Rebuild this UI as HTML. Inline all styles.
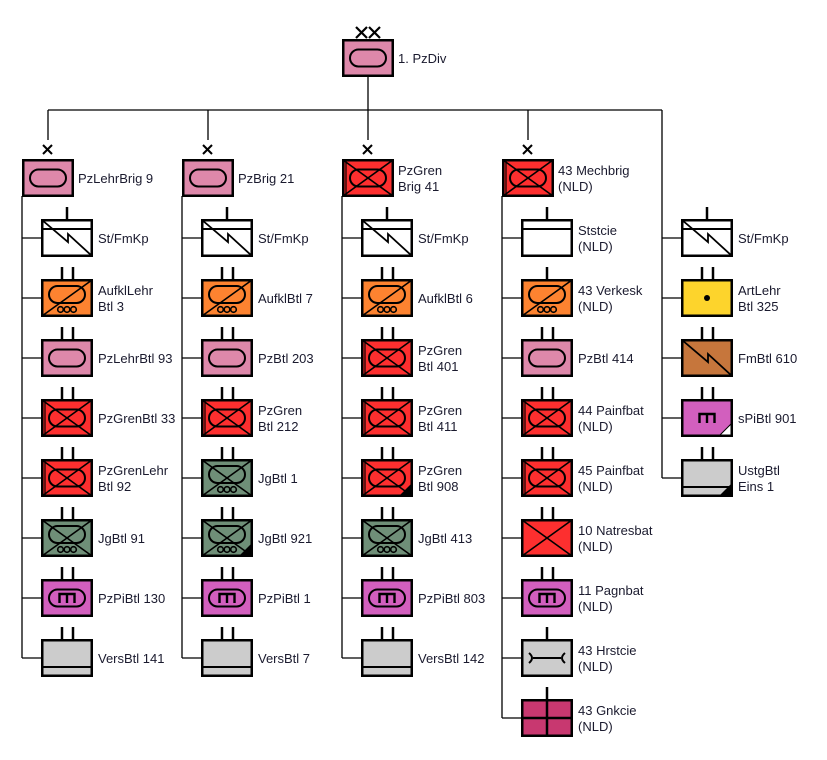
<!DOCTYPE html>
<html><head><meta charset="utf-8"><style>
html,body{margin:0;padding:0;background:#fff;}
svg{display:block;}
text{font-family:"Liberation Sans",Arial,sans-serif;font-size:13px;fill:#1a1a2e;}
</style></head><body>
<svg width="827" height="760" viewBox="0 0 827 760" xmlns="http://www.w3.org/2000/svg">
<defs>
<g id="box" fill="none" stroke="#000" stroke-width="2.5"><rect x="1.25" y="1.25" width="49.5" height="35.5"/></g>
<g id="stad" fill="none" stroke="#000" stroke-width="2"><rect x="8" y="10.5" width="36" height="17" rx="8.5"/></g>
<g id="stadH" fill="none" stroke="#000" stroke-width="2"><rect x="8" y="7" width="36" height="17" rx="8.5"/></g>
<g id="wheels" fill="none" stroke="#000" stroke-width="1.6"><circle cx="19.5" cy="30.5" r="2.8"/><circle cx="26" cy="30.5" r="2.8"/><circle cx="32.5" cy="30.5" r="2.8"/></g>
<g id="xx" stroke="#000" stroke-width="1.6"><line x1="1" y1="1" x2="51" y2="37"/><line x1="51" y1="1" x2="1" y2="37"/></g>
<g id="armor"><rect x="0" y="0" width="52" height="38" fill="#de88aa"/><use href="#stad"/><use href="#box"/></g>
<g id="mech"><rect x="0" y="0" width="52" height="38" fill="#fd2f2f"/><use href="#stad"/><use href="#xx"/><line x1="4" y1="2" x2="4" y2="36" stroke="#000" stroke-width="1.2"/><use href="#box"/></g>
<g id="jg"><rect x="0" y="0" width="52" height="38" fill="#6f8f78"/><use href="#stadH"/><use href="#wheels"/><use href="#xx"/><use href="#box"/></g>
<g id="recon"><rect x="0" y="0" width="52" height="38" fill="#fd8330"/><use href="#stadH"/><use href="#wheels"/><line x1="1" y1="37" x2="51" y2="1" stroke="#000" stroke-width="1.6"/><use href="#box"/></g>
<g id="eng"><rect x="0" y="0" width="52" height="38" fill="#d25fbe"/><use href="#stad"/><path d="M18.5,24 V15 H33.5 V24 M26,15 V24" fill="none" stroke="#000" stroke-width="2.4"/><use href="#box"/></g>
<g id="engP"><rect x="0" y="0" width="52" height="38" fill="#d25fbe"/><path d="M18.5,24 V15 H33.5 V24 M26,15 V24" fill="none" stroke="#000" stroke-width="2.4"/><path d="M38,37 L51,24 L51,37 Z" fill="#fff" stroke="#000" stroke-width="1"/><use href="#box"/></g>
<g id="sup"><rect x="0" y="0" width="52" height="38" fill="#cccccc"/><line x1="1" y1="28" x2="51" y2="28" stroke="#000" stroke-width="2"/><use href="#box"/></g>
<g id="sig"><rect x="0" y="0" width="52" height="38" fill="#fff"/><line x1="1" y1="10" x2="51" y2="10" stroke="#000" stroke-width="2"/><path d="M1,1 L27,23 L27,15 L51,37" fill="none" stroke="#000" stroke-width="1.8"/><use href="#box"/></g>
<g id="sigB"><rect x="0" y="0" width="52" height="38" fill="#c6763c"/><path d="M1,1 L27,23 L27,15 L51,37" fill="none" stroke="#000" stroke-width="1.8"/><use href="#box"/></g>
<g id="hq"><rect x="0" y="0" width="52" height="38" fill="#fff"/><line x1="1" y1="10" x2="51" y2="10" stroke="#000" stroke-width="2"/><use href="#box"/></g>
<g id="art"><rect x="0" y="0" width="52" height="38" fill="#fdd42c"/><circle cx="26" cy="19" r="3" fill="#000"/><use href="#box"/></g>
<g id="inf"><rect x="0" y="0" width="52" height="38" fill="#fd2f2f"/><use href="#xx"/><use href="#box"/></g>
<g id="maint"><rect x="0" y="0" width="52" height="38" fill="#cccccc"/><path d="M8,14 Q14,19 8,24 M12,19 H40 M44,14 Q38,19 44,24" fill="none" stroke="#000" stroke-width="2"/><use href="#box"/></g>
<g id="med"><rect x="0" y="0" width="52" height="38" fill="#c83870"/><line x1="26" y1="0" x2="26" y2="38" stroke="#000" stroke-width="2.5"/><line x1="0" y1="19" x2="52" y2="19" stroke="#000" stroke-width="2.5"/><use href="#box"/></g>
<g id="tri"><path d="M38,37 L51,24 L51,37 Z" fill="#000"/></g>
<g id="bn" stroke="#000" stroke-width="2.5"><line x1="21" y1="-12" x2="21" y2="0"/><line x1="32" y1="-12" x2="32" y2="0"/></g>
<g id="co" stroke="#000" stroke-width="2.5"><line x1="26" y1="-12" x2="26" y2="0"/></g>
<g id="brx" stroke="#000" stroke-width="2"><line x1="21" y1="-14" x2="30" y2="-5"/><line x1="30" y1="-14" x2="21" y2="-5"/></g>
</defs>

<g stroke="#000" stroke-width="1.3" fill="none">
<line x1="368" y1="77" x2="368" y2="110"/>
<line x1="48" y1="110" x2="662" y2="110"/>
<line x1="48" y1="110" x2="48" y2="140"/>
<line x1="208" y1="110" x2="208" y2="140"/>
<line x1="368" y1="110" x2="368" y2="140"/>
<line x1="528" y1="110" x2="528" y2="140"/>
<line x1="662" y1="110" x2="662" y2="478"/>
<line x1="22" y1="196" x2="22" y2="658"/>
<line x1="182" y1="196" x2="182" y2="658"/>
<line x1="342" y1="196" x2="342" y2="658"/>
<line x1="502" y1="196" x2="502" y2="718"/>
</g>
<g stroke="#000" stroke-width="1.3">
<line x1="22" y1="238" x2="41" y2="238"/><line x1="22" y1="298" x2="41" y2="298"/><line x1="22" y1="358" x2="41" y2="358"/><line x1="22" y1="418" x2="41" y2="418"/><line x1="22" y1="478" x2="41" y2="478"/><line x1="22" y1="538" x2="41" y2="538"/><line x1="22" y1="598" x2="41" y2="598"/><line x1="22" y1="658" x2="41" y2="658"/>
<line x1="182" y1="238" x2="201" y2="238"/><line x1="182" y1="298" x2="201" y2="298"/><line x1="182" y1="358" x2="201" y2="358"/><line x1="182" y1="418" x2="201" y2="418"/><line x1="182" y1="478" x2="201" y2="478"/><line x1="182" y1="538" x2="201" y2="538"/><line x1="182" y1="598" x2="201" y2="598"/><line x1="182" y1="658" x2="201" y2="658"/>
<line x1="342" y1="238" x2="361" y2="238"/><line x1="342" y1="298" x2="361" y2="298"/><line x1="342" y1="358" x2="361" y2="358"/><line x1="342" y1="418" x2="361" y2="418"/><line x1="342" y1="478" x2="361" y2="478"/><line x1="342" y1="538" x2="361" y2="538"/><line x1="342" y1="598" x2="361" y2="598"/><line x1="342" y1="658" x2="361" y2="658"/>
<line x1="502" y1="238" x2="521" y2="238"/><line x1="502" y1="298" x2="521" y2="298"/><line x1="502" y1="358" x2="521" y2="358"/><line x1="502" y1="418" x2="521" y2="418"/><line x1="502" y1="478" x2="521" y2="478"/><line x1="502" y1="538" x2="521" y2="538"/><line x1="502" y1="598" x2="521" y2="598"/><line x1="502" y1="658" x2="521" y2="658"/><line x1="502" y1="718" x2="521" y2="718"/>
<line x1="662" y1="238" x2="681" y2="238"/><line x1="662" y1="298" x2="681" y2="298"/><line x1="662" y1="358" x2="681" y2="358"/><line x1="662" y1="418" x2="681" y2="418"/><line x1="662" y1="478" x2="681" y2="478"/>
</g>

<use href="#armor" x="342" y="39"/>
<g stroke="#000" stroke-width="2.2"><line x1="356" y1="27" x2="367" y2="38"/><line x1="367" y1="27" x2="356" y2="38"/><line x1="369" y1="27" x2="380" y2="38"/><line x1="380" y1="27" x2="369" y2="38"/></g>
<text x="398" y="63">1. PzDiv</text>

<use href="#armor" x="22" y="159"/><use href="#brx" x="22" y="159"/><text x="78" y="183">PzLehrBrig 9</text>
<use href="#armor" x="182" y="159"/><use href="#brx" x="182" y="159"/><text x="238" y="183">PzBrig 21</text>
<use href="#mech" x="342" y="159"/><use href="#brx" x="342" y="159"/><text x="398" y="175">PzGren</text><text x="398" y="191">Brig 41</text>
<use href="#mech" x="502" y="159"/><use href="#brx" x="502" y="159"/><text x="558" y="175">43 Mechbrig</text><text x="558" y="191">(NLD)</text>

<use href="#sig" x="41" y="219"/><use href="#co" x="41" y="219"/><text x="98" y="243">St/FmKp</text>
<use href="#recon" x="41" y="279"/><use href="#bn" x="41" y="279"/><text x="98" y="295">AufklLehr</text><text x="98" y="311">Btl 3</text>
<use href="#armor" x="41" y="339"/><use href="#bn" x="41" y="339"/><text x="98" y="363">PzLehrBtl 93</text>
<use href="#mech" x="41" y="399"/><use href="#bn" x="41" y="399"/><text x="98" y="423">PzGrenBtl 33</text>
<use href="#mech" x="41" y="459"/><use href="#bn" x="41" y="459"/><text x="98" y="475">PzGrenLehr</text><text x="98" y="491">Btl 92</text>
<use href="#jg" x="41" y="519"/><use href="#bn" x="41" y="519"/><text x="98" y="543">JgBtl 91</text>
<use href="#eng" x="41" y="579"/><use href="#bn" x="41" y="579"/><text x="98" y="603">PzPiBtl 130</text>
<use href="#sup" x="41" y="639"/><use href="#bn" x="41" y="639"/><text x="98" y="663">VersBtl 141</text>

<use href="#sig" x="201" y="219"/><use href="#co" x="201" y="219"/><text x="258" y="243">St/FmKp</text>
<use href="#recon" x="201" y="279"/><use href="#bn" x="201" y="279"/><text x="258" y="303">AufklBtl 7</text>
<use href="#armor" x="201" y="339"/><use href="#bn" x="201" y="339"/><text x="258" y="363">PzBtl 203</text>
<use href="#mech" x="201" y="399"/><use href="#bn" x="201" y="399"/><text x="258" y="415">PzGren</text><text x="258" y="431">Btl 212</text>
<use href="#jg" x="201" y="459"/><use href="#bn" x="201" y="459"/><text x="258" y="483">JgBtl 1</text>
<use href="#jg" x="201" y="519"/><use href="#tri" x="201" y="519"/><use href="#bn" x="201" y="519"/><text x="258" y="543">JgBtl 921</text>
<use href="#eng" x="201" y="579"/><use href="#bn" x="201" y="579"/><text x="258" y="603">PzPiBtl 1</text>
<use href="#sup" x="201" y="639"/><use href="#bn" x="201" y="639"/><text x="258" y="663">VersBtl 7</text>

<use href="#sig" x="361" y="219"/><use href="#co" x="361" y="219"/><text x="418" y="243">St/FmKp</text>
<use href="#recon" x="361" y="279"/><use href="#bn" x="361" y="279"/><text x="418" y="303">AufklBtl 6</text>
<use href="#mech" x="361" y="339"/><use href="#bn" x="361" y="339"/><text x="418" y="355">PzGren</text><text x="418" y="371">Btl 401</text>
<use href="#mech" x="361" y="399"/><use href="#bn" x="361" y="399"/><text x="418" y="415">PzGren</text><text x="418" y="431">Btl 411</text>
<use href="#mech" x="361" y="459"/><use href="#tri" x="361" y="459"/><use href="#bn" x="361" y="459"/><text x="418" y="475">PzGren</text><text x="418" y="491">Btl 908</text>
<use href="#jg" x="361" y="519"/><use href="#bn" x="361" y="519"/><text x="418" y="543">JgBtl 413</text>
<use href="#eng" x="361" y="579"/><use href="#bn" x="361" y="579"/><text x="418" y="603">PzPiBtl 803</text>
<use href="#sup" x="361" y="639"/><use href="#bn" x="361" y="639"/><text x="418" y="663">VersBtl 142</text>

<use href="#hq" x="521" y="219"/><use href="#co" x="521" y="219"/><text x="578" y="235">Ststcie</text><text x="578" y="251">(NLD)</text>
<use href="#recon" x="521" y="279"/><use href="#co" x="521" y="279"/><text x="578" y="295">43 Verkesk</text><text x="578" y="311">(NLD)</text>
<use href="#armor" x="521" y="339"/><use href="#bn" x="521" y="339"/><text x="578" y="363">PzBtl 414</text>
<use href="#mech" x="521" y="399"/><use href="#bn" x="521" y="399"/><text x="578" y="415">44 Painfbat</text><text x="578" y="431">(NLD)</text>
<use href="#mech" x="521" y="459"/><use href="#bn" x="521" y="459"/><text x="578" y="475">45 Painfbat</text><text x="578" y="491">(NLD)</text>
<use href="#inf" x="521" y="519"/><use href="#bn" x="521" y="519"/><text x="578" y="535">10 Natresbat</text><text x="578" y="551">(NLD)</text>
<use href="#eng" x="521" y="579"/><use href="#bn" x="521" y="579"/><text x="578" y="595">11 Pagnbat</text><text x="578" y="611">(NLD)</text>
<use href="#maint" x="521" y="639"/><use href="#co" x="521" y="639"/><text x="578" y="655">43 Hrstcie</text><text x="578" y="671">(NLD)</text>
<use href="#med" x="521" y="699"/><use href="#co" x="521" y="699"/><text x="578" y="715">43 Gnkcie</text><text x="578" y="731">(NLD)</text>

<use href="#sig" x="681" y="219"/><use href="#co" x="681" y="219"/><text x="738" y="243">St/FmKp</text>
<use href="#art" x="681" y="279"/><use href="#bn" x="681" y="279"/><text x="738" y="295">ArtLehr</text><text x="738" y="311">Btl 325</text>
<use href="#sigB" x="681" y="339"/><use href="#bn" x="681" y="339"/><text x="738" y="363">FmBtl 610</text>
<use href="#engP" x="681" y="399"/><use href="#bn" x="681" y="399"/><text x="738" y="423">sPiBtl 901</text>
<use href="#sup" x="681" y="459"/><use href="#tri" x="681" y="459"/><use href="#bn" x="681" y="459"/><text x="738" y="475">UstgBtl</text><text x="738" y="491">Eins 1</text>
</svg>
</body></html>
